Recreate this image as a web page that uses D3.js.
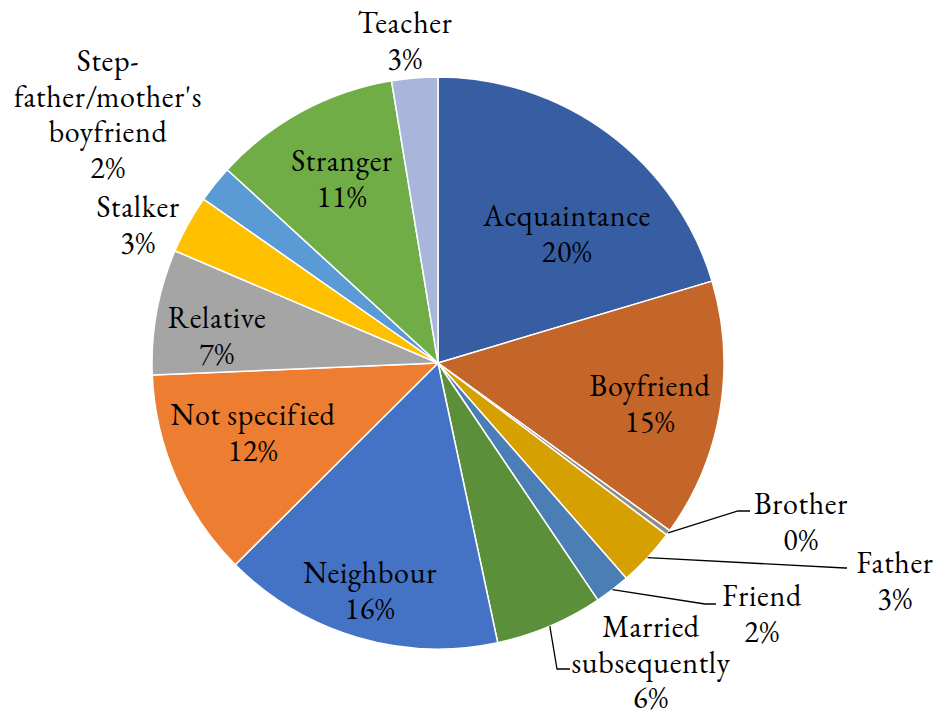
<!DOCTYPE html>
<html>
<head>
<meta charset="utf-8">
<script src="https://cdn.jsdelivr.net/npm/d3@7"></script>
<style>
  body { margin: 0; background: #fff; }
  svg text { font-family: "EB Garamond", Garamond, "Liberation Serif", "DejaVu Serif", serif; font-size: 30px; letter-spacing: 0.7px; fill: #000; }
</style>
</head>
<body>
<svg id="chart"></svg>
<script>
// slice data, clockwise from 12 o'clock (percent)
var categories = ["Acquaintance", "Boyfriend", "Brother", "Father", "Friend", "Married subsequently",
  "Neighbour", "Not specified", "Relative", "Stalker", "Step-father/mother's boyfriend", "Stranger", "Teacher"];
var values = [20.4, 14.6, 0.3, 3.3, 2.0, 6.1, 15.9, 11.8, 7.1, 3.3, 2.1, 10.6, 2.6];
var colors = ["#375EA2", "#C4652A", "#8C8C8C", "#D5A000", "#4A7EB4", "#5B8F3A",
  "#4472C4", "#ED7D31", "#A5A5A5", "#FFC000", "#5B9BD5", "#70AD47", "#A9B6DB"];

// label layout: text lines + center position, optional leader line elbow
var labelLayout = {
  "Acquaintance": { lines: ["Acquaintance"], x: 567, y: 215 },
  "Boyfriend": { lines: ["Boyfriend"], x: 650, y: 385 },
  "Brother": { lines: ["Brother"], x: 801, y: 503, elbow: [738, 511], end: [750, 511] },
  "Father": { lines: ["Father"], x: 895, y: 562, elbow: [845, 568], end: [847, 568] },
  "Friend": { lines: ["Friend"], x: 762, y: 595, elbow: [705, 604], end: [716, 604] },
  "Married subsequently": { lines: ["Married", "subsequently"], x: 651, y: 626, elbow: [557, 669], end: [570, 669] },
  "Neighbour": { lines: ["Neighbour"], x: 370, y: 572 },
  "Not specified": { lines: ["Not specified"], x: 253, y: 414 },
  "Relative": { lines: ["Relative"], x: 217, y: 317 },
  "Stalker": { lines: ["Stalker"], x: 138, y: 206 },
  "Step-father/mother's boyfriend": { lines: ["Step-", "father/mother's", "boyfriend"], x: 108, y: 60 },
  "Stranger": { lines: ["Stranger"], x: 342, y: 160 },
  "Teacher": { lines: ["Teacher"], x: 405, y: 22 }
};

var width = 937, height = 715;
var cx = 438, cy = 363, radius = 286;
var lineH = 35.5;

var svg = d3.select("#chart")
  .attr("width", width)
  .attr("height", height);

var g = svg.append("g")
  .attr("transform", "translate(" + cx + "," + cy + ")");

var pie = d3.pie()
  .sort(null)
  .value(function(d) { return d; });

var arcs = pie(values);

var arc = d3.arc()
  .innerRadius(0)
  .outerRadius(radius);

g.selectAll("path.slice")
  .data(arcs)
  .enter()
  .append("path")
  .attr("class", "slice")
  .attr("d", arc)
  .attr("fill", function(d, i) { return colors[i]; })
  .attr("stroke", "#fff")
  .attr("stroke-width", 1.5)
  .attr("stroke-linejoin", "round");

var total = d3.sum(values);

// leader lines for the small outside labels
arcs.forEach(function(d, i) {
  var lay = labelLayout[categories[i]];
  if (!lay.elbow) return;
  var mid = (d.startAngle + d.endAngle) / 2;
  var sx = cx + Math.sin(mid) * radius;
  var sy = cy - Math.cos(mid) * radius;
  svg.append("polyline")
    .attr("points", [[sx, sy], lay.elbow, lay.end].map(function(p) { return p.join(","); }).join(" "))
    .attr("fill", "none")
    .attr("stroke", "#000")
    .attr("stroke-width", 1.3);
});

arcs.forEach(function(d, i) {
  var lay = labelLayout[categories[i]];
  var pct = Math.round(d.value / total * 100) + "%";
  var lines = lay.lines.concat([pct]);
  var t = svg.append("text")
    .attr("text-anchor", "middle")
    .attr("x", lay.x)
    .attr("y", lay.y)
    .attr("dominant-baseline", "central");
  lines.forEach(function(s, k) {
    t.append("tspan")
      .attr("x", lay.x)
      .attr("y", lay.y + k * lineH)
      .text(s);
  });
});
</script>
</body>
</html>
